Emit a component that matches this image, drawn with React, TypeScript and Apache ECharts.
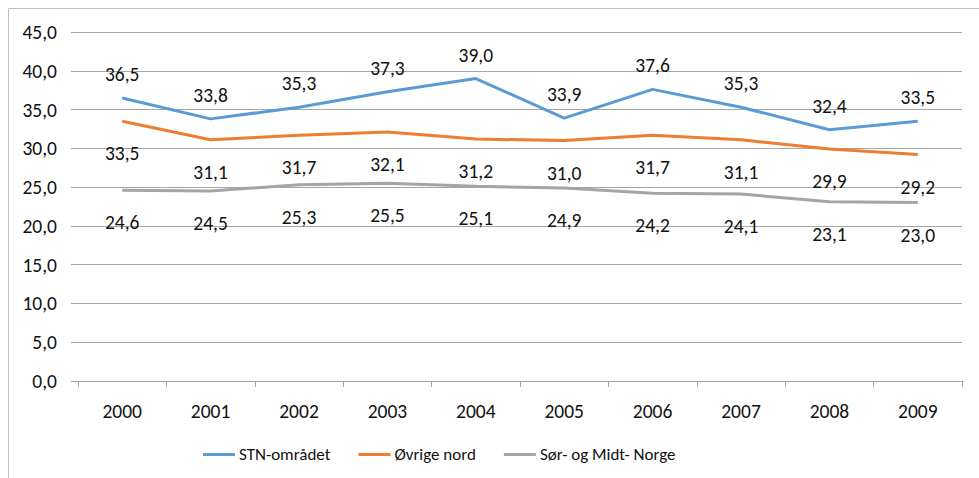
import React, { useEffect, useRef } from "react";
import * as echarts from "echarts";

const categories = ["2000", "2001", "2002", "2003", "2004", "2005", "2006", "2007", "2008", "2009"];
const stnValues = [36.5, 33.8, 35.3, 37.3, 39.0, 33.9, 37.6, 35.3, 32.4, 33.5];
const ovrigeValues = [33.5, 31.1, 31.7, 32.1, 31.2, 31.0, 31.7, 31.1, 29.9, 29.2];
const sorValues = [24.6, 24.5, 25.3, 25.5, 25.1, 24.9, 24.2, 24.1, 23.1, 23.0];
const seriesNames = ["STN-området", "Øvrige nord", "Sør- og Midt- Norge"];

const FONT = "Carlito, Calibri, Lato, sans-serif";
const fmt = (v: number) => v.toFixed(1).replace(".", ",");

export default function App() {
  const ref = useRef<HTMLDivElement>(null);
  useEffect(() => {
    document.body.style.margin = "0";
    const chart = echarts.init(ref.current!, null, { renderer: "svg" });
    const mk = (name: string, data: number[], color: string, pos: "top" | "bottom", dist: number) => ({
      name,
      type: "line",
      data,
      color,
      symbol: "circle",
      symbolSize: 0,
      showSymbol: true,
      lineStyle: { color, width: 3 },
      itemStyle: { color },
      label: {
        show: true,
        position: pos,
        distance: dist,
        fontFamily: FONT,
        fontSize: 19.5,
        lineHeight: 21,
        color: "#111",
        formatter: (p: any) => fmt(p.value),
      },
    });
    chart.setOption({
      animation: false,
      backgroundColor: "#fff",
      grid: { left: 78, right: 17, top: 32, bottom: 97, containLabel: false },
      xAxis: {
        type: "category",
        data: categories,
        boundaryGap: true,
        axisLine: { show: true, lineStyle: { color: "#a6a6a6", width: 1 } },
        axisTick: { show: true, length: 6, lineStyle: { color: "#a6a6a6" } },
        axisLabel: { fontFamily: FONT, fontSize: 19.5, color: "#111", margin: 20 },
      },
      yAxis: {
        type: "value",
        min: 0,
        max: 45,
        interval: 5,
        axisLine: { show: false },
        axisTick: { show: true, length: 7, lineStyle: { color: "#a6a6a6" } },
        splitLine: { show: true, lineStyle: { color: "#a6a6a6", width: 1 } },
        axisLabel: { fontFamily: FONT, fontSize: 19.5, color: "#111", margin: 21, formatter: (v: number) => fmt(v) },
      },
      legend: {
        left: 198,
        top: 441,
        icon: "rect",
        itemWidth: 32,
        itemHeight: 3,
        itemGap: 28,
        data: seriesNames,
        textStyle: { fontFamily: FONT, fontSize: 17, color: "#111", padding: [0, 0, 0, -1] },
      },
      graphic: [
        {
          type: "polyline",
          shape: { points: [[8.5, 478], [8.5, 8.5], [979, 8.5]] },
          style: { stroke: "#bfbfbf", lineWidth: 1, fill: "none" },
          silent: true,
        },
      ],
      series: [
        mk(seriesNames[0], stnValues, "#5B9BD5", "top", 13.5),
        mk(seriesNames[1], ovrigeValues, "#ED7D31", "bottom", 21.5),
        mk(seriesNames[2], sorValues, "#A5A5A5", "bottom", 21.5),
      ],
    });
    return () => chart.dispose();
  }, []);
  return <div ref={ref} style={{ width: 979, height: 478 }} />;
}
